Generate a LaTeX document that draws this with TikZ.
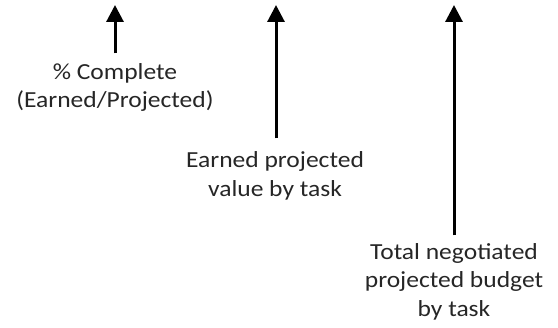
\documentclass[tikz,border=0pt]{standalone}
\usepackage{fontspec}
\setmainfont{Carlito}[FakeStretch=1.11]
\usetikzlibrary{arrows.meta}
\definecolor{txt}{HTML}{262626}
\begin{document}
\begin{tikzpicture}[x=1pt,y=-1pt,
  lab/.style={align=center,inner sep=0pt,anchor=north,text=txt,
    font=\fontsize{23}{28.5}\selectfont},
  arr/.style={line width=3pt,-{Triangle[width=17pt,length=17pt]}}]
\useasboundingbox (0,0) rectangle (558,328);
\node[lab] (l1) at (115,63) {\% Complete\\(Earned/Projected)};
\node[lab] (l2) at (275,151.5) {Earned projected\\value by task};
\node[lab] (l3) at (454,243) {Total negotiated\\projected budget\\by task};
\coordinate (t1) at (115,5);
\coordinate (t2) at (276,5);
\coordinate (t3) at (454,5);
\draw[arr] ([yshift=9.5pt]l1.north) -- (t1);
\draw[arr] ([xshift=1pt,yshift=13pt]l2.north) -- (t2);
\draw[arr] ([yshift=7.5pt]l3.north) -- (t3);
\end{tikzpicture}
\end{document}
